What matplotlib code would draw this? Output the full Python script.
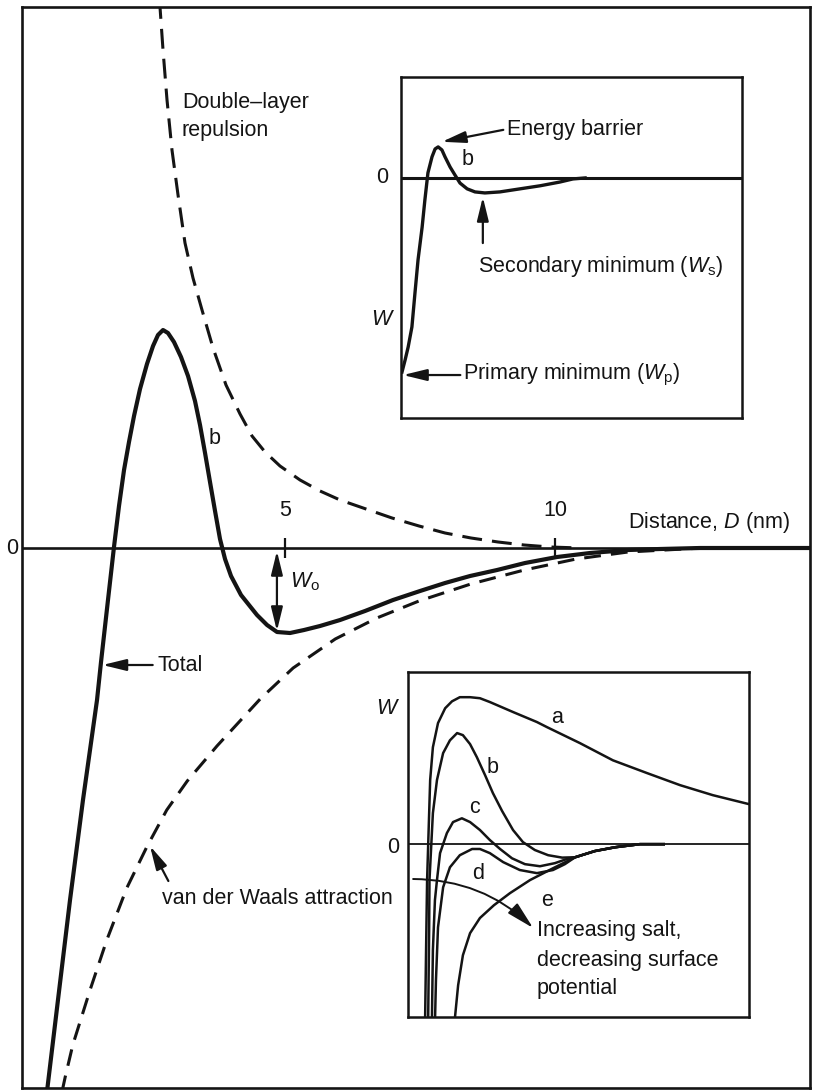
import numpy as np
import matplotlib
matplotlib.use('Agg')
import matplotlib.pyplot as plt

# main plot: distance D (nm) vs interaction energy W (arbitrary units)
total_d = [0.574, 0.796, 1.019, 1.259, 1.519, 1.593, 1.722, 1.833, 1.926, 2.019, 2.111,
           2.204, 2.315, 2.444, 2.556, 2.648, 2.741, 2.833, 2.944, 3.074, 3.204, 3.333,
           3.426, 3.519, 3.611, 3.704, 3.796, 3.889, 4.000, 4.185, 4.481, 4.667, 4.852,
           5.093, 5.352, 5.648, 6.019, 6.481, 7.000, 7.500, 7.963, 8.426, 8.926, 9.444,
           10.037, 10.648, 11.352, 11.944, 12.685, 14.8]
total_w = [-5.52, -4.52, -3.52, -2.52, -1.52, -1.14, -0.52, 0.01, 0.42, 0.78, 1.06,
           1.32, 1.59, 1.84, 2.02, 2.13, 2.18, 2.15, 2.06, 1.91, 1.72, 1.47,
           1.23, 0.95, 0.66, 0.37, 0.09, -0.11, -0.28, -0.47, -0.67, -0.77, -0.84,
           -0.85, -0.82, -0.78, -0.72, -0.63, -0.52, -0.43, -0.35, -0.28, -0.22, -0.15,
           -0.09, -0.05, -0.02, -0.01, 0.0, 0.0]

rep_d = [2.667, 2.685, 2.741, 2.815, 2.907, 3.019, 3.148, 3.296, 3.463, 3.667, 3.907,
         4.167, 4.389, 4.630, 4.907, 5.278, 5.648, 6.019, 6.500, 6.981, 7.481, 7.963,
         8.444, 8.944, 9.426, 9.907, 10.463]
rep_w = [5.58, 5.41, 4.98, 4.48, 3.98, 3.53, 3.05, 2.70, 2.38, 2.00, 1.63,
         1.34, 1.12, 0.96, 0.82, 0.68, 0.57, 0.48, 0.39, 0.30, 0.22, 0.15,
         0.10, 0.06, 0.03, 0.01, 0.0]

vdw_d = [0.87, 0.93, 1.07, 1.39, 1.70, 2.07, 2.44, 2.81, 3.19, 3.74, 4.54, 5.15, 5.93,
         6.70, 7.48, 8.44, 9.43, 10.39, 11.35, 12.72, 14.8]
vdw_w = [-5.44, -5.29, -4.97, -4.42, -3.92, -3.40, -2.99, -2.62, -2.33, -1.98, -1.51,
         -1.20, -0.91, -0.70, -0.53, -0.36, -0.22, -0.11, -0.04, 0.0, 0.0]

# upper inset: curve b with barrier, secondary and primary minima
top_x = [0.03, 0.12, 0.21, 0.32, 0.41, 0.50, 0.62, 0.70, 0.79, 0.91, 1.00, 1.09, 1.20,
         1.29, 1.44, 1.58, 1.73, 1.94, 2.17, 2.46, 2.90, 3.49, 4.08, 4.66, 5.04, 5.40]
top_w = [-5.69, -5.34, -4.96, -4.37, -3.37, -2.40, -1.44, -0.65, 0.15, 0.62, 0.85, 0.91,
         0.82, 0.62, 0.32, 0.09, -0.15, -0.32, -0.41, -0.44, -0.41, -0.32, -0.23, -0.12,
         -0.03, 0.0]

# lower inset: curves a-e (b, c, d, e meet before joining the zero line)
a_x = [0.50, 0.53, 0.56, 0.65, 0.73, 0.88, 1.09, 1.29, 1.52, 1.82, 2.11, 2.40, 3.08,
       3.78, 4.08, 5.04, 6.01, 7.01, 7.98, 8.94, 10.0]
a_w = [-5.2, -3.07, -1.04, 1.86, 2.81, 3.51, 3.94, 4.14, 4.26, 4.26, 4.23, 4.12, 3.83,
       3.54, 3.39, 2.93, 2.43, 2.06, 1.71, 1.42, 1.16]
b_x = [0.59, 0.62, 0.63, 0.73, 0.85, 1.03, 1.23, 1.44, 1.61, 1.82, 2.02, 2.26, 2.49,
       2.76, 3.08, 3.37, 3.72, 4.11, 4.52, 4.90, 5.48, 6.07, 6.80, 7.5]
b_w = [-5.2, -2.49, -1.04, 0.90, 1.86, 2.64, 3.01, 3.22, 3.16, 2.90, 2.52, 2.00, 1.48,
       0.96, 0.41, 0.06, -0.17, -0.32, -0.39, -0.38, -0.20, -0.09, 0.0, 0.0]
c_x = [0.70, 0.73, 0.79, 0.85, 0.94, 1.14, 1.32, 1.58, 1.82, 2.11, 2.40, 2.70, 3.05,
       3.43, 3.87, 4.31, 4.66, 4.90, 5.48, 6.07, 6.80, 7.5]
c_w = [-5.2, -3.07, -1.62, -1.04, -0.26, 0.32, 0.64, 0.75, 0.64, 0.41, 0.12, -0.14,
       -0.41, -0.58, -0.64, -0.55, -0.43, -0.38, -0.20, -0.09, 0.0, 0.0]
d_x = [0.79, 0.82, 0.88, 1.03, 1.23, 1.52, 1.88, 2.11, 2.40, 2.79, 3.28, 3.78, 4.25,
       4.60, 4.90, 5.48, 6.07, 6.80, 7.5]
d_w = [-5.2, -3.94, -2.41, -1.25, -0.67, -0.32, -0.14, -0.14, -0.26, -0.52, -0.75,
       -0.84, -0.75, -0.58, -0.38, -0.20, -0.09, 0.0, 0.0]
e_x = [1.36, 1.47, 1.61, 1.82, 2.11, 2.52, 2.99, 3.58, 4.25, 4.90, 5.48, 6.07, 6.80, 7.5]
e_w = [-5.2, -4.09, -3.22, -2.58, -2.14, -1.77, -1.42, -1.04, -0.70, -0.38, -0.20,
       -0.09, 0.0, 0.0]

main_ticks = [5, 10]
main_tick_labels = ['5', '10']

plt.rcParams['font.family'] = ['Liberation Sans', 'DejaVu Sans']
plt.rcParams['mathtext.fontset'] = 'custom'
plt.rcParams['mathtext.rm'] = 'Liberation Sans'
plt.rcParams['mathtext.it'] = 'Liberation Sans:italic'
FS = 15.5
INK = '#141414'

fig = plt.figure(figsize=(8.16, 10.92), dpi=100)

# ---- main axes ----
ax = fig.add_axes([0.02696, 0.00366, 0.96569, 0.98993])
ax.set_xlim(0.13, 14.72)
ax.set_ylim(-5.40, 5.41)
ax.set_xticks([])
ax.set_yticks([])
for s in ax.spines.values():
    s.set_linewidth(1.9)
    s.set_color(INK)

ax.axhline(0, color=INK, lw=1.9)
ax.vlines(main_ticks, -0.10, 0.10, color=INK, lw=1.6)
for t, lab in zip(main_ticks, main_tick_labels):
    ax.text(t, 0.38, lab, fontsize=FS, ha='center', va='center', color=INK)
ax.text(-0.06, 0, '0', fontsize=FS, ha='center', va='center', color=INK)
ax.text(14.35, 0.26, r'Distance, $D$ (nm)', fontsize=FS, ha='right', va='center', color=INK)

ax.plot(total_d, total_w, color=INK, lw=3.0, solid_capstyle='round', solid_joinstyle='round')
ax.plot(rep_d, rep_w, color=INK, lw=2.2, dashes=(6.5, 3.3))
ax.plot(vdw_d, vdw_w, color=INK, lw=2.2, dashes=(5.5, 3.3))

ax.text(3.09, 4.46, 'Double\u2013layer', fontsize=FS, ha='left', va='center', color=INK)
ax.text(3.09, 4.18, 'repulsion', fontsize=FS, ha='left', va='center', color=INK)
ax.text(3.70, 1.10, 'b', fontsize=FS, ha='center', va='center', color=INK)

arr = dict(arrowstyle='-|>,head_length=0.9,head_width=0.22', color=INK, lw=1.6,
           shrinkA=0, shrinkB=0, mutation_scale=16)
ax.annotate('', xy=(4.85, -0.83), xytext=(4.85, -0.03),
            arrowprops=dict(arr, arrowstyle='<|-|>,head_length=0.9,head_width=0.22'))
ax.text(5.09, -0.34, r'$W_{\rm o}$', fontsize=FS, ha='left', va='center', color=INK)

ax.annotate('', xy=(1.62, -1.17), xytext=(2.55, -1.17), arrowprops=arr)
ax.text(2.63, -1.17, 'Total', fontsize=FS, ha='left', va='center', color=INK)

ax.annotate('', xy=(2.50, -2.98), xytext=(2.84, -3.33), arrowprops=arr)
ax.text(2.72, -3.50, 'van der Waals attraction', fontsize=FS, ha='left', va='center', color=INK)

# ---- upper inset ----
ai = fig.add_axes([0.49142, 0.61722, 0.41789, 0.31227])
ai.set_xlim(0, 10)
ai.set_ylim(-7.04, 2.96)
ai.set_xticks([])
ai.set_yticks([])
for s in ai.spines.values():
    s.set_linewidth(1.8)
    s.set_color(INK)
ai.axhline(0, color=INK, lw=2.2)
ai.plot(top_x, top_w, color=INK, lw=2.4, solid_joinstyle='round')
ai.text(-0.56, 0, '0', fontsize=FS, ha='center', va='center', color=INK)
ai.text(-0.53, -4.16, r'$W$', fontsize=FS, ha='center', va='center', color=INK)
ai.text(1.94, 0.53, 'b', fontsize=FS, ha='center', va='center', color=INK)
ai.annotate('', xy=(1.20, 1.06), xytext=(3.00, 1.41), arrowprops=arr)
ai.text(3.11, 1.41, 'Energy barrier', fontsize=FS, ha='left', va='center', color=INK)
ai.annotate('', xy=(2.40, -0.56), xytext=(2.40, -1.91), arrowprops=arr)
ai.text(2.26, -2.61, r'Secondary minimum ($W_{\rm s}$)', fontsize=FS, ha='left',
        va='center', color=INK)
ai.annotate('', xy=(0.06, -5.78), xytext=(1.74, -5.78), arrowprops=arr)
ai.text(1.82, -5.78, r'Primary minimum ($W_{\rm p}$)', fontsize=FS, ha='left',
        va='center', color=INK)

# ---- lower inset ----
bi = fig.add_axes([0.5, 0.06868, 0.41789, 0.31593])
bi.set_xlim(0, 10)
bi.set_ylim(-5.01, 4.99)
bi.set_xticks([])
bi.set_yticks([])
for s in bi.spines.values():
    s.set_linewidth(1.8)
    s.set_color(INK)
bi.axhline(0, color=INK, lw=1.3)
for xs, ws in [(a_x, a_w), (b_x, b_w), (c_x, c_w), (d_x, d_w), (e_x, e_w)]:
    bi.plot(xs, ws, color=INK, lw=1.8, solid_joinstyle='round')
bi.text(-0.59, 3.94, r'$W$', fontsize=FS, ha='center', va='center', color=INK)
bi.text(-0.44, -0.09, '0', fontsize=FS, ha='center', va='center', color=INK)
for lab, px, py in [('a', 4.37, 3.68), ('b', 2.49, 2.23), ('c', 1.96, 1.07),
                    ('d', 2.05, -0.84), ('e', 4.08, -1.62)]:
    bi.text(px, py, lab, fontsize=FS, ha='center', va='center', color=INK)
bi.annotate('', xy=(3.67, -2.43), xytext=(0.15, -1.01), annotation_clip=False,
            arrowprops=dict(arr, connectionstyle='arc3,rad=-0.2', lw=1.4,
                            mutation_scale=19))
for txt, py in [('Increasing salt,', -2.49), ('decreasing surface', -3.36),
                ('potential', -4.17)]:
    bi.text(3.78, py, txt, fontsize=FS, ha='left', va='center', color=INK)

fig.savefig('out.png', dpi=100)
